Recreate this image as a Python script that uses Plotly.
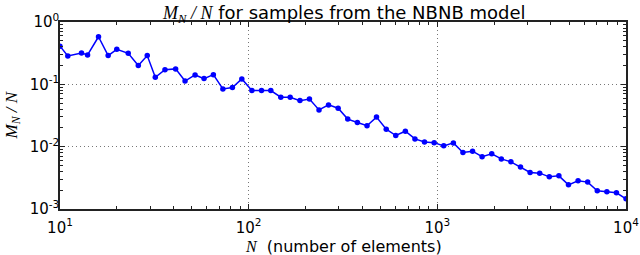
import plotly.graph_objects as go

N = [10, 11, 13, 14, 16, 18, 20, 23, 26, 29, 32, 36, 41, 46, 52, 58, 65, 73, 82, 92,
     104, 117, 131, 148, 166, 187, 210, 236, 265, 298, 335, 377, 424, 476, 536, 602,
     677, 761, 855, 962, 1081, 1216, 1367, 1537, 1727, 1942, 2183, 2454, 2759, 3102,
     3488, 3921, 4408, 4956, 5571, 6264, 7042, 7917, 8900, 10000]
ratio = [0.41, 0.285, 0.319, 0.296, 0.58, 0.289, 0.365, 0.315, 0.20, 0.289, 0.130, 0.172,
         0.177, 0.113, 0.1415, 0.1235, 0.143, 0.0844, 0.0886, 0.122, 0.0794, 0.0794, 0.0794,
         0.0621, 0.0621, 0.0548, 0.0583, 0.0389, 0.0468, 0.0414, 0.0277, 0.0244, 0.0217,
         0.0298, 0.0191, 0.0151, 0.0177, 0.0133, 0.0119, 0.0116, 0.0103, 0.0115, 0.00805,
         0.00847, 0.0069, 0.00767, 0.00637, 0.00571, 0.00474, 0.00385, 0.00376, 0.00328,
         0.0034, 0.00244, 0.00283, 0.0027, 0.00196, 0.00189, 0.00182, 0.00146]

x_ticks = [10, 100, 1000, 10000]
x_ticktext = ["10<sup>1</sup>", "10<sup>2</sup>", "10<sup>3</sup>", "10<sup>4</sup>"]
y_ticks = [0.001, 0.01, 0.1, 1]
y_ticktext = ["10<sup>-3</sup>", "10<sup>-2</sup>", "10<sup>-1</sup>", "10<sup>0</sup>"]
x_minor = [m * 10 ** e for e in (1, 2, 3) for m in range(2, 10)]
y_minor = [m * 10 ** e for e in (-3, -2, -1) for m in range(2, 10)]

MATH = "font-family:'Liberation Serif'"
def mi(s):
    return f"<span style=\"{MATH}\"><i>{s}</i></span>"

title = f"{mi('M')}<sub>{mi('N')}</sub>{mi(' / N')} for samples from the NBNB model"
ytitle = f"{mi('M')}<sub>{mi('N')}</sub>{mi(' / N')}"
xtitle = f"{mi('N')}  (number of elements)"

fig = go.Figure(go.Scatter(
    x=N, y=ratio, mode="lines+markers",
    line=dict(color="#0000ff", width=1.5),
    marker=dict(color="#0000ff", size=5.5),
))

axis_common = dict(
    showline=True, linecolor="#222", linewidth=1.5, mirror="allticks",
    ticks="inside", ticklen=5, tickcolor="#222", tickwidth=1,
    showgrid=True, gridcolor="#777", griddash="1px,3px", gridwidth=1,
    zeroline=False, automargin=False,
    tickfont=dict(family="DejaVu Sans", size=15, color="black"),
)

fig.update_xaxes(type="log", range=[1, 4], tickvals=x_ticks, ticktext=x_ticktext,
                 ticklabelstandoff=4,
                 minor=dict(ticks="inside", ticklen=3, tickcolor="#222", tickvals=x_minor, showgrid=False),
                 **axis_common)
fig.update_yaxes(type="log", range=[-3, 0], tickvals=y_ticks, ticktext=y_ticktext,
                 ticklabelstandoff=-4,
                 minor=dict(ticks="inside", ticklen=3, tickcolor="#222", tickvals=y_minor, showgrid=False),
                 **axis_common)

fig.add_annotation(text=xtitle, xref="paper", yref="paper", x=0.5, y=-0.198,
                   xanchor="center", yanchor="middle", showarrow=False,
                   font=dict(family="DejaVu Sans", size=16, color="black"))
fig.add_annotation(text=ytitle, xref="paper", yref="paper", x=-0.0848, y=0.5,
                   xanchor="center", yanchor="middle", showarrow=False, textangle=-90,
                   font=dict(family="DejaVu Sans", size=17, color="black"))

fig.update_layout(
    width=640, height=255,
    margin=dict(l=60, r=14, t=22, b=46),
    paper_bgcolor="white", plot_bgcolor="white",
    showlegend=False,
    title=dict(text=title, x=0.538, xanchor="center", y=0.975, yanchor="top",
               font=dict(family="DejaVu Sans", size=18, color="black")),
)

fig.write_html("out.html", config={"displayModeBar": False},
               post_script="document.body.style.margin='0';document.body.style.overflow='hidden';")
